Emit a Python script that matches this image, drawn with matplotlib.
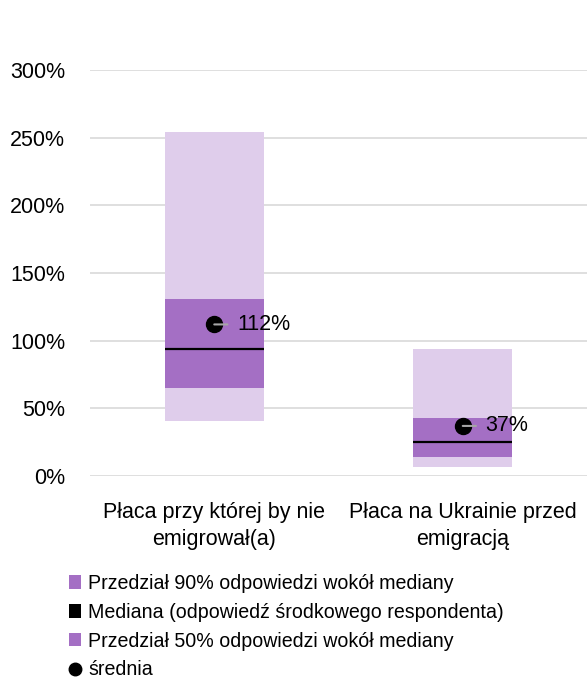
import matplotlib
matplotlib.use("Agg")
import matplotlib.pyplot as plt
import numpy as np
from matplotlib.lines import Line2D
from matplotlib.patches import Patch

categories = ["Płaca przy której by nie\nemigrował(a)", "Płaca na Ukrainie przed\nemigracją"]
p90_low = [41, 7]
p90_high = [254, 94]
p50_low = [65, 14]
p50_high = [131, 43]
median = [94, 25]
mean = [112, 37]
yticks = [0, 50, 100, 150, 200, 250, 300]
legend_labels = ["Przedział 90% odpowiedzi wokół mediany",
                 "Mediana (odpowiedź środkowego respondenta)",
                 "Przedział 50% odpowiedzi wokół mediany",
                 "średnia"]

light = "#DFCDEB"
dark = "#A46FC4"
plt.rcParams['font.family'] = ['Liberation Sans', 'DejaVu Sans']

fig = plt.figure(figsize=(5.87, 6.87), dpi=100)
ax = fig.add_axes([90/587, 1-476/687, 497/587, 406/687])

x = np.arange(len(categories))
w = 0.4
lo90 = np.array(p90_low); hi90 = np.array(p90_high)
lo50 = np.array(p50_low); hi50 = np.array(p50_high)
ax.bar(x, hi90 - lo90, bottom=lo90, width=w, color=light, zorder=2)
ax.bar(x, hi50 - lo50, bottom=lo50, width=w, color=dark, zorder=3)
ax.hlines(median, x - w/2, x + w/2, color="black", lw=1.6, zorder=4)
ax.plot(x, mean, "o", color="black", ms=11.5, zorder=6)
for xi, m in zip(x, mean):
    ax.annotate("", xy=(xi, m), xytext=(9.5, 0), textcoords="offset points",
                arrowprops=dict(arrowstyle="-", color="#A6A6A6", lw=1.5, shrinkA=0, shrinkB=0),
                zorder=7)
    ax.annotate(f"{m}%", xy=(xi, m), xytext=(16.5, 0), textcoords="offset points",
                ha="left", va="center", fontsize=15.5, zorder=8)

ax.set_xlim(-0.5, 1.5)
ax.set_ylim(0, 300)
ax.set_yticks(yticks)
ax.set_yticklabels([f"{t}%" for t in yticks], fontsize=15.5)
ax.set_xticks(x)
ax.set_xticklabels(categories, fontsize=15.5, linespacing=1.35)
ax.tick_params(length=0)
ax.tick_params(axis="y", pad=18)
ax.tick_params(axis="x", pad=19)
ax.grid(axis="y", color="#D9D9D9", lw=1.2, zorder=0)
ax.set_axisbelow(True)
for s in ax.spines.values():
    s.set_visible(False)

handles = [Patch(facecolor=dark, edgecolor="none"),
           Patch(facecolor="black", edgecolor="none"),
           Patch(facecolor=dark, edgecolor="none"),
           Line2D([], [], marker="o", color="black", ls="none", ms=9)]
fig.legend(handles, legend_labels, loc="upper left", bbox_to_anchor=(69/587, 1-574/687),
           frameon=False, fontsize=14.1, handlelength=0.62, handleheight=0.68,
           handletextpad=0.35, labelspacing=0.5, borderpad=0, borderaxespad=0)

fig.savefig("out.png", dpi=100)
